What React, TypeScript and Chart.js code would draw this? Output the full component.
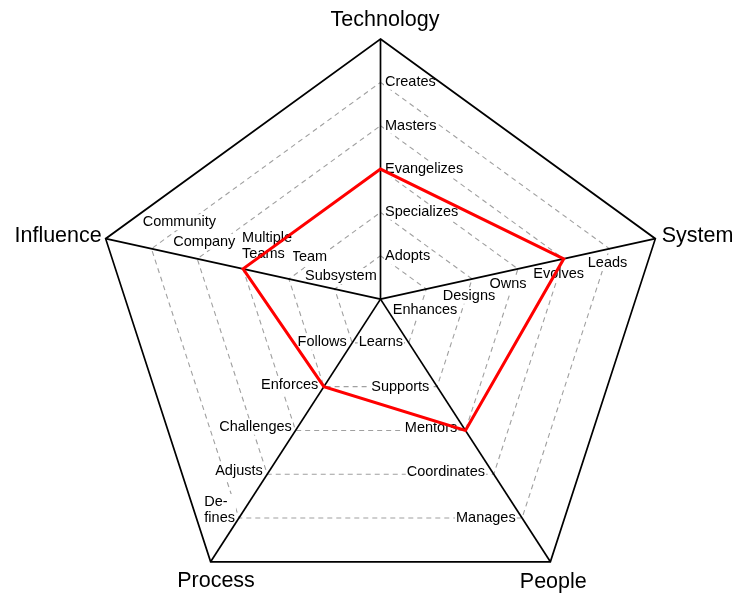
import React, { useEffect, useRef } from 'react';
import { Chart, registerables } from 'chart.js';

Chart.register(...registerables);

// ---------------- data ----------------
const categories = ['Technology', 'System', 'People', 'Process', 'Influence'];
const technologyLevels = ['Adopts', 'Specializes', 'Evangelizes', 'Masters', 'Creates'];
const systemLevels = ['Enhances', 'Designs', 'Owns', 'Evolves', 'Leads'];
const peopleLevels = ['Learns', 'Supports', 'Mentors', 'Coordinates', 'Manages'];
const processLevels = ['Follows', 'Enforces', 'Challenges', 'Adjusts', 'Defines'];
const influenceLevels = ['Subsystem', 'Team', 'Multiple Teams', 'Company', 'Community'];
const levelLabels = [technologyLevels, systemLevels, peopleLevels, processLevels, influenceLevels];
const values = [3, 4, 3, 2, 3];
const maxLevel = 6;
const gridLevels = [1, 2, 3, 4, 5];

// ---------------- layout ----------------
const W = 750;
const H = 608;
const PX_CX = 380.5; // pentagon centre (px)
const PX_CY = 328;
const PX_R = 289; // pentagon circumradius (px)
const HUB_OFFSET = 0.1; // axes meet this far above the pentagon centre (in radii)

type P = { x: number; y: number };

function vertex(i: number): P {
  const a = (i * 2 * Math.PI) / categories.length;
  return { x: Math.sin(a), y: Math.cos(a) };
}
const hub: P = { x: 0, y: HUB_OFFSET };
function pointAt(i: number, level: number): P {
  const v = vertex(i);
  const t = level / maxLevel;
  return { x: hub.x + (v.x - hub.x) * t, y: hub.y + (v.y - hub.y) * t };
}
function ring(levelFor: (i: number) => number, overlap: boolean): P[] {
  const pts = categories.map((_, i) => pointAt(i, levelFor(i)));
  pts.push(pts[0]);
  if (overlap) pts.push(pts[1]);
  return pts;
}

// label placement nudges (px) relative to the point where the level crosses the axis
const labelLayout: { align: CanvasTextAlign; nudges: number[][] }[] = [
  { align: 'left', nudges: [[4.5, 0.5], [4.5, -0.6], [4.5, 0.3], [4.5, 0], [4.5, -0.6]] },
  { align: 'center', nudges: [[-1.3, 20.7], [-3.1, 16.8], [-10, 15.2], [-5, 15.2], [-2, 14.3]] },
  { align: 'right', nudges: [[-5.8, -0.8], [-7.8, 0.7], [-8.2, -2], [-8.8, -1.9], [-6.4, 0.3]] },
  { align: 'right', nudges: [[-5.5, -1.1], [-5.6, -1.6], [-3.8, -3.7], [-4.5, -3.2], [-4, 0.3]] },
  { align: 'left', nudges: [[-29.7, -13], [2.8, -21.9], [-1, -14.5], [-24, -17], [-8.7, -26.5]] },
];
// where to break long labels: [axis, level, char index, hyphenate]
const labelBreaks: [number, number, number, boolean][] = [
  [4, 2, 8, false],
  [3, 4, 2, true],
];
const titleLayout: { align: CanvasTextAlign; dx: number; dy: number }[] = [
  { align: 'center', dx: 4.5, dy: -18.7 },
  { align: 'left', dx: 6.3, dy: -2.7 },
  { align: 'center', dx: 2.9, dy: 20.2 },
  { align: 'center', dx: 5.4, dy: 18.9 },
  { align: 'right', dx: -3.9, dy: -2.2 },
];

const LABEL_FONT = '14.5px "Liberation Sans", Arial, sans-serif';
const TITLE_FONT = '21.5px "Liberation Sans", Arial, sans-serif';
const LINE_H = 16.3;

function splitLabel(axis: number, level: number, text: string): string[] {
  const b = labelBreaks.find((e) => e[0] === axis && e[1] === level);
  if (!b) return [text];
  const at = b[2];
  if (b[3]) return [text.slice(0, at) + '-', text.slice(at)];
  return [text.slice(0, at).trim(), text.slice(at).trim()];
}

const OUTER_INDEX = 1 + categories.length;

const labelsPlugin = {
  id: 'levelLabels',
  beforeDatasetDraw(chart: any, args: any) {
    if (args.index !== OUTER_INDEX) return;
    const ctx: CanvasRenderingContext2D = chart.ctx;
    const sx = chart.scales.x;
    const sy = chart.scales.y;
    ctx.save();
    ctx.font = LABEL_FONT;
    ctx.textBaseline = 'middle';
    ctx.textAlign = 'left';
    levelLabels.forEach((labels, i) => {
      const lay = labelLayout[i];
      labels.forEach((text, k) => {
        const p = pointAt(i, k + 1);
        const px = sx.getPixelForValue(p.x) + lay.nudges[k][0];
        const py = sy.getPixelForValue(p.y) + lay.nudges[k][1];
        const lines = splitLabel(i, k, text);
        const widths = lines.map((l) => ctx.measureText(l).width);
        const bw = Math.max(...widths);
        let left = px;
        if (lay.align === 'right') left = px - bw;
        else if (lay.align === 'center') left = px - bw / 2;
        const top = py - (lines.length - 1) * LINE_H - 8;
        const bh = (lines.length - 1) * LINE_H + 16;
        ctx.fillStyle = '#ffffff';
        ctx.fillRect(left - 1, top, bw + 2, bh);
        ctx.fillStyle = '#000000';
        lines.forEach((l, j) => {
          const ly = py - (lines.length - 1 - j) * LINE_H;
          ctx.fillText(l, left, ly);
        });
      });
    });
    ctx.restore();
  },
  afterDraw(chart: any) {
    const ctx: CanvasRenderingContext2D = chart.ctx;
    const sx = chart.scales.x;
    const sy = chart.scales.y;
    ctx.save();
    ctx.font = TITLE_FONT;
    ctx.textBaseline = 'middle';
    ctx.fillStyle = '#000000';
    categories.forEach((name, i) => {
      const v = pointAt(i, maxLevel);
      const t = titleLayout[i];
      ctx.textAlign = t.align;
      ctx.fillText(name, sx.getPixelForValue(v.x) + t.dx, sy.getPixelForValue(v.y) + t.dy);
    });
    ctx.restore();
  },
};

export default function App() {
  const ref = useRef<HTMLCanvasElement | null>(null);

  useEffect(() => {
    document.body.style.margin = '0';
    if (!ref.current) return;

    const lineBase = {
      showLine: true,
      pointRadius: 0,
      pointHoverRadius: 0,
      fill: false,
      tension: 0,
      borderJoinStyle: 'miter' as const,
      clip: false as const,
    };

    const datasets: any[] = [];
    datasets.push({
      ...lineBase,
      label: 'Level',
      data: ring((i) => values[i], true),
      borderColor: '#ff0000',
      borderWidth: 3,
    });
    categories.forEach((c, i) => {
      datasets.push({
        ...lineBase,
        label: c,
        data: [pointAt(i, 0), pointAt(i, maxLevel)],
        borderColor: '#000000',
        borderWidth: 1.7,
      });
    });
    datasets.push({
      ...lineBase,
      label: 'outer',
      data: ring(() => maxLevel, true),
      borderColor: '#000000',
      borderWidth: 1.7,
    });
    gridLevels.forEach((lv) => {
      datasets.push({
        ...lineBase,
        label: 'grid ' + lv,
        data: ring(() => lv, false),
        borderColor: '#a0a0a0',
        borderWidth: 1.1,
        borderDash: [5, 4],
      });
    });

    const chart = new Chart(ref.current, {
      type: 'scatter',
      data: { datasets },
      options: {
        animation: false,
        responsive: false,
        devicePixelRatio: 1,
        events: [],
        layout: { padding: 0, autoPadding: false } as any,
        plugins: { legend: { display: false }, tooltip: { enabled: false } },
        scales: {
          x: { type: 'linear', display: false, min: -PX_CX / PX_R, max: (W - PX_CX) / PX_R },
          y: { type: 'linear', display: false, min: -(H - PX_CY) / PX_R, max: PX_CY / PX_R },
        },
      },
      plugins: [labelsPlugin],
    });
    return () => chart.destroy();
  }, []);

  return (
    <div style={{ width: W, height: H, background: '#ffffff' }}>
      <canvas ref={ref} width={W} height={H} style={{ display: 'block' }} />
    </div>
  );
}
